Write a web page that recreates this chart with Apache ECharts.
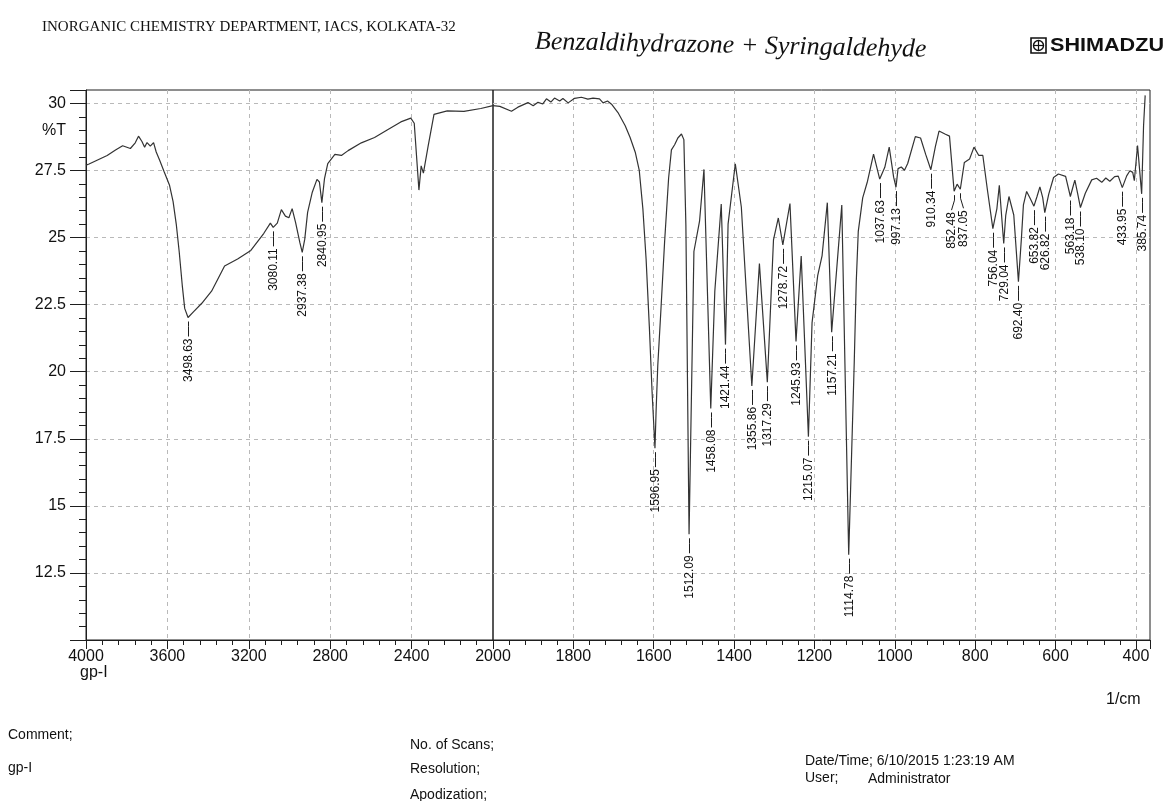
<!DOCTYPE html>
<html>
<head>
<meta charset="utf-8">
<script src="https://cdn.jsdelivr.net/npm/echarts@6/dist/echarts.min.js"></script>
<style>
html,body{margin:0;padding:0;background:#fff;}
#chart{width:1170px;height:801px;}
</style>
</head>
<body>
<div id="chart"></div>
<script>
// ---- data ----
const wavenumber = [
  4000, 3985, 3896, 3855, 3820, 3782, 3758, 3742, 3725, 3712, 3700, 3684, 3668, 3655, 3638, 3616,
  3590, 3572, 3556, 3542, 3527, 3515, 3498.63, 3471, 3431, 3383, 3319, 3255, 3190, 3126, 3094,
  3080.11, 3060, 3040, 3020, 3003, 2987, 2970, 2949, 2937.38, 2925, 2911, 2888, 2865, 2853,
  2840.95, 2828, 2812, 2777, 2745, 2712, 2647, 2582, 2518, 2453, 2404, 2387, 2364, 2353, 2342,
  2319, 2290, 2225, 2143, 2060, 2000,
  1983, 1954, 1938, 1913, 1900, 1888, 1876, 1867, 1856, 1847, 1834, 1826, 1813, 1797, 1780,
  1764, 1751, 1735, 1726, 1715, 1705, 1689, 1671, 1659, 1646, 1636, 1627, 1619, 1611, 1604,
  1596.95, 1594, 1590, 1582, 1573, 1563, 1556, 1548, 1540, 1531, 1525, 1520, 1512.09, 1500,
  1486, 1475, 1458.08, 1448, 1432, 1421.44, 1415, 1397, 1382, 1355.86, 1337, 1317.29, 1302,
  1290, 1278.72, 1261, 1245.93, 1233, 1215.07, 1206, 1192, 1181, 1168, 1157.21, 1132, 1114.78,
  1101, 1096, 1091, 1080, 1068, 1053, 1037.63, 1025, 1014, 1003, 997.13, 992, 984, 976, 968,
  949, 936, 923, 910.34, 899, 890, 874, 864, 852.48, 845, 837.05, 827, 814, 803, 791, 781, 770,
  756.04, 746, 740, 729.04, 724, 716, 704, 692.40, 685, 680, 672, 664, 653.82, 646, 639, 632,
  626.82, 617, 605, 593, 575, 563.18, 558, 552, 545, 538.10, 526, 510, 498, 485, 475, 465, 453,
  444, 433.95, 423, 415, 408, 404, 396, 385.74, 381, 377
];
const transmittance = [
  27.70, 27.74, 28.06, 28.26, 28.42, 28.32, 28.53, 28.78, 28.58, 28.37, 28.54, 28.41, 28.54, 28.19, 27.88, 27.45,
  26.96, 26.34, 25.47, 24.47, 23.22, 22.36, 22.02, 22.24, 22.55, 23.00, 23.94, 24.20, 24.52, 25.16, 25.54,
  25.38, 25.54, 26.04, 25.80, 25.74, 26.08, 25.56, 24.81, 24.45, 24.94, 25.94, 26.69, 27.17, 27.07,
  26.30, 27.20, 27.76, 28.10, 28.06, 28.24, 28.53, 28.73, 29.02, 29.31, 29.45, 29.26, 26.77, 27.67, 27.40,
  28.40, 29.59, 29.72, 29.70, 29.81, 29.92,
  29.89, 29.71, 29.86, 30.03, 29.91, 30.04, 29.98, 30.17, 30.05, 30.20, 30.09, 30.18, 30.02, 30.19, 30.23,
  30.16, 30.20, 30.17, 30.02, 30.09, 29.97, 29.66, 29.17, 28.74, 28.18, 27.50, 26.07, 24.20, 21.70, 19.21,
  17.15, 18.59, 20.21, 22.34, 24.83, 27.21, 28.27, 28.46, 28.71, 28.86, 28.65, 25.47, 13.94, 24.48,
  25.61, 27.54, 18.63, 23.00, 26.25, 21.01, 25.50, 27.75, 26.14, 19.47, 24.03, 19.61, 24.91,
  25.73, 24.73, 26.27, 21.13, 24.31, 17.58, 21.83, 23.58, 24.33, 26.30, 21.47, 26.21, 13.18,
  20.36, 23.35, 25.23, 26.48, 27.10, 28.11, 27.18, 27.62, 28.37, 27.25, 26.88, 27.57, 27.63, 27.51, 27.76,
  28.76, 28.71, 28.09, 27.53, 28.40, 28.97, 28.85, 28.78, 26.73, 26.99, 26.80, 27.80, 27.93, 28.37, 28.06, 28.06, 26.82,
  25.33, 26.08, 26.95, 24.78, 25.83, 26.53, 25.84, 23.35, 24.97, 26.22, 26.72, 26.48, 26.17, 26.54, 26.89, 26.49,
  25.93, 26.62, 27.24, 27.37, 27.28, 26.53, 26.82, 27.14, 26.64, 26.12, 26.65, 27.15, 27.21, 27.06, 27.22, 27.10, 27.27,
  27.29, 26.86, 27.30, 27.49, 27.43, 27.12, 28.43, 26.63, 29.18, 30.30
];
const peakWavenumbers = [
  3498.63, 3080.11, 2937.38, 2840.95,
  1596.95, 1512.09, 1458.08, 1421.44, 1355.86, 1317.29, 1278.72, 1245.93, 1215.07, 1157.21, 1114.78,
  1037.63, 997.13, 910.34, 852.48, 837.05, 756.04, 729.04, 692.40, 653.82, 626.82, 563.18, 538.10,
  433.95, 385.74
];
const xBreak = 2000;          // scale changes here (4000-2000 / 2000-400)
const xLeftRange = [2000, 4000];
const xRightRange = [365, 2000];
const yRange = [10, 30.5];
const yStep = 2.5;

// ---- styling / layout (not data) ----
const labelNudge = { '852.48': -3, '837.05': 3 };
const FONT = '"Liberation Sans", Arial, sans-serif';
const INK = '#1e1e1e';
const GRID_TOP = 90, GRID_H = 550, LEFT_X = 86, LEFT_W = 407, RIGHT_W = 657;

const leftData = [], rightData = [];
wavenumber.forEach((w, i) => {
  if (w >= xBreak) leftData.push([w, transmittance[i]]);
  if (w <= xBreak) rightData.push([w, transmittance[i]]);
});
const peakPoint = w => [w, transmittance[wavenumber.indexOf(w)]];
const leftPeaks = peakWavenumbers.filter(w => w > xBreak);
const rightPeaks = peakWavenumbers.filter(w => w < xBreak);

function peakRenderer(list) {
  return function (params, api) {
    const w = list[params.dataIndex];
    const p = api.coord([api.value(0), api.value(1)]);
    const key = w.toFixed(2);
    const dx = labelNudge[key] || 0;
    const x0 = Math.round(p[0]) + 0.5;
    const y0 = p[1];
    return {
      type: 'group',
      children: [
        { type: 'polyline',
          shape: { points: [[x0, y0 + 4], [x0, y0 + 9], [x0 + dx, y0 + 19]] },
          style: { stroke: INK, lineWidth: 1, fill: null } },
        { type: 'text', x: x0 + dx, y: y0 + 21, rotation: Math.PI / 2,
          style: { text: key, fill: '#111', font: '12px ' + FONT,
                   align: 'right', verticalAlign: 'middle',
                   textAlign: 'right', textVerticalAlign: 'middle' } }
      ]
    };
  };
}

const splitStyle = { show: true, showMinLine: false, showMaxLine: false,
  lineStyle: { color: '#b9b9b9', width: 1, type: [4, 4] } };
const tickStyle = { color: INK, width: 1 };

const xLabel = { color: '#111', fontSize: 16, fontFamily: FONT, margin: 9, formatter: v => String(v) };

function txt(x, y, text, font, extra) {
  return Object.assign({ type: 'text', x: x, y: y, silent: true,
    style: { text: text, font: font, fill: '#111', verticalAlign: 'middle', textVerticalAlign: 'middle' } }, extra || {});
}

const option = {
  backgroundColor: '#ffffff',
  animation: false,
  grid: [
    { left: LEFT_X, top: GRID_TOP, width: LEFT_W, height: GRID_H, show: true, borderColor: INK, borderWidth: 1 },
    { left: LEFT_X + LEFT_W, top: GRID_TOP, width: RIGHT_W, height: GRID_H, show: true, borderColor: INK, borderWidth: 1 }
  ],
  xAxis: [
    { type: 'value', gridIndex: 0, min: xLeftRange[0], max: xLeftRange[1], interval: 400, inverse: true,
      axisLine: { show: true, lineStyle: tickStyle },
      axisTick: { show: true, length: 9, lineStyle: tickStyle },
      minorTick: { show: true, splitNumber: 5, length: 5, lineStyle: tickStyle },
      axisLabel: xLabel, splitLine: splitStyle },
    { type: 'value', gridIndex: 1, min: xRightRange[0], max: xRightRange[1], minInterval: 200, maxInterval: 200, inverse: true,
      axisLine: { show: true, lineStyle: tickStyle },
      axisTick: { show: true, length: 9, lineStyle: tickStyle },
      minorTick: { show: true, splitNumber: 5, length: 5, lineStyle: tickStyle },
      axisLabel: Object.assign({ showMinLabel: false, showMaxLabel: false }, xLabel),
      splitLine: splitStyle }
  ],
  yAxis: [
    { type: 'value', gridIndex: 0, min: yRange[0], max: yRange[1], interval: yStep,
      axisLine: { show: true, lineStyle: tickStyle },
      axisTick: { show: true, length: 16, lineStyle: tickStyle },
      minorTick: { show: true, splitNumber: 5, length: 7, lineStyle: tickStyle },
      axisLabel: { color: '#111', fontSize: 16, fontFamily: FONT, margin: 20, showMinLabel: false, showMaxLabel: false },
      splitLine: splitStyle },
    { type: 'value', gridIndex: 1, min: yRange[0], max: yRange[1], interval: yStep,
      axisLine: { show: false }, axisTick: { show: false }, axisLabel: { show: false },
      splitLine: splitStyle }
  ],
  series: [
    { type: 'line', xAxisIndex: 0, yAxisIndex: 0, data: leftData, showSymbol: false, symbol: 'none',
      lineStyle: { color: '#333', width: 1.2 }, clip: true },
    { type: 'line', xAxisIndex: 1, yAxisIndex: 1, data: rightData, showSymbol: false, symbol: 'none',
      lineStyle: { color: '#333', width: 1.2 }, clip: true },
    { type: 'custom', xAxisIndex: 0, yAxisIndex: 0, clip: false, encode: { x: 0, y: 1 },
      data: leftPeaks.map(peakPoint), renderItem: peakRenderer(leftPeaks) },
    { type: 'custom', xAxisIndex: 1, yAxisIndex: 1, clip: false, encode: { x: 0, y: 1 },
      data: rightPeaks.map(peakPoint), renderItem: peakRenderer(rightPeaks) }
  ],
  graphic: [
    txt(42, 27, 'INORGANIC CHEMISTRY DEPARTMENT, IACS, KOLKATA-32', '15px "Liberation Serif", "Times New Roman", serif'),
    txt(535, 42, 'Benzaldihydrazone + Syringaldehyde', 'italic 26px "Liberation Serif", serif', { rotation: -0.02 }),
    { type: 'rect', shape: { x: 1031, y: 38, width: 15, height: 15 }, style: { fill: null, stroke: '#111', lineWidth: 1.6 } },
    { type: 'circle', shape: { cx: 1038.5, cy: 45.5, r: 5 }, style: { fill: null, stroke: '#111', lineWidth: 1.4 } },
    { type: 'line', shape: { x1: 1033.5, y1: 45.5, x2: 1043.5, y2: 45.5 }, style: { stroke: '#111', lineWidth: 1.2 } },
    { type: 'line', shape: { x1: 1038.5, y1: 40.5, x2: 1038.5, y2: 50.5 }, style: { stroke: '#111', lineWidth: 1.2 } },
    txt(1050, 46, 'SHIMADZU', 'bold 18px ' + FONT, { scaleX: 1.2 }),
    txt(42, 131, '%T', '16px ' + FONT),
    txt(80, 673, 'gp-I', '16px ' + FONT),
    txt(1106, 700, '1/cm', '16px ' + FONT),
    txt(8, 735, 'Comment;', '14px ' + FONT),
    txt(8, 768, 'gp-I', '14px ' + FONT),
    txt(410, 745, 'No. of Scans;', '14px ' + FONT),
    txt(410, 769, 'Resolution;', '14px ' + FONT),
    txt(410, 795, 'Apodization;', '14px ' + FONT),
    txt(805, 761, 'Date/Time; 6/10/2015 1:23:19 AM', '14px ' + FONT),
    txt(805, 778, 'User;', '14px ' + FONT),
    txt(868, 779, 'Administrator', '14px ' + FONT)
  ]
};

const chart = echarts.init(document.getElementById('chart'), null, { renderer: 'canvas' });
chart.setOption(option);
</script>
</body>
</html>
